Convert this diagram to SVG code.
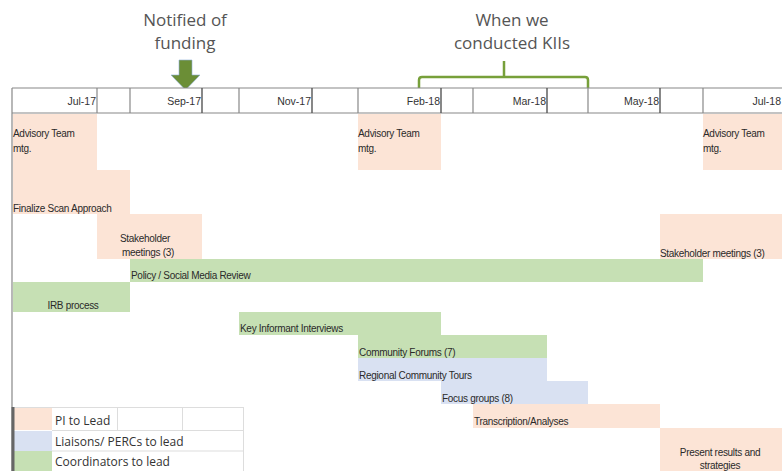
<svg xmlns="http://www.w3.org/2000/svg" width="782" height="471" viewBox="0 0 782 471">
<style>
.pi{fill:#fce4d6}
.gr{fill:#c6e0b4}
.bl{fill:#d9e1f2}
.lbl{font-family:"Liberation Sans",Arial,sans-serif;font-size:10px;fill:#2a2a2a;letter-spacing:-0.3px}
.hdr{font-family:"Liberation Sans",Arial,sans-serif;font-size:10.5px;fill:#333;text-anchor:end}
.top{font-family:"Open Sans","Liberation Sans",sans-serif;font-size:17px;fill:#555;text-anchor:middle}
.leg{font-family:"Open Sans","Liberation Sans",sans-serif;font-size:12px;fill:#333}
.gl{stroke:#888;stroke-width:1.2;fill:none}
.gd{stroke:#555;stroke-width:1.4;fill:none}
.lg{stroke:#ddd;stroke-width:1;fill:none}
</style>
<rect width="782" height="471" fill="#fff"/>

<g id="annotations">
  <text class="top" x="185" y="26">Notified of</text>
  <text class="top" x="185" y="49">funding</text>
  <text class="top" x="512" y="26">When we</text>
  <text class="top" x="512" y="49">conducted KIIs</text>
</g>

<g id="connectors">
  <path id="funding-arrow" d="M179,60 H192 V75 H200 L185.5,90 L171,75 H179 Z" fill="#6b8e36" stroke="#8fb0d8" stroke-width="0.6"/>
  <path id="kii-bracket" d="M419,90 V80 Q419,77 422,77 H585 Q588,77 588,80 V90 M504,77 V61" fill="none" stroke="#77a03a" stroke-width="2.5"/>
</g>

<g id="header">
  <rect x="12" y="88" width="790" height="25" fill="#fff"/>
  <line class="gl" x1="12" y1="88" x2="782" y2="88"/>
  <line class="gl" x1="12" y1="113" x2="782" y2="113"/>
  <line class="gl" x1="12" y1="88" x2="12" y2="471" stroke-width="1.6"/>
  <line class="gl" x1="97" y1="88" x2="97" y2="113"/>
  <line class="gl" x1="130" y1="88" x2="130" y2="113"/>
  <line class="gd" x1="202" y1="88" x2="202" y2="113"/>
  <line class="gl" x1="239" y1="88" x2="239" y2="113"/>
  <line class="gd" x1="312" y1="88" x2="312" y2="113"/>
  <line class="gl" x1="358" y1="88" x2="358" y2="113"/>
  <line class="gd" x1="441" y1="88" x2="441" y2="113"/>
  <line class="gl" x1="473" y1="88" x2="473" y2="113"/>
  <line class="gd" x1="547" y1="88" x2="547" y2="113"/>
  <line class="gl" x1="588" y1="88" x2="588" y2="113"/>
  <line class="gd" x1="660" y1="88" x2="660" y2="113"/>
  <line class="gl" x1="703" y1="88" x2="703" y2="113"/>
  <text class="hdr" x="96" y="105">Jul-17</text>
  <text class="hdr" x="201" y="105">Sep-17</text>
  <text class="hdr" x="311" y="105">Nov-17</text>
  <text class="hdr" x="440" y="105">Feb-18</text>
  <text class="hdr" x="546" y="105">Mar-18</text>
  <text class="hdr" x="659" y="105">May-18</text>
  <text class="hdr" x="781" y="105">Jul-18</text>
</g>

<g id="advisory-1"><rect class="pi" x="13" y="114" width="84" height="56"/><text class="lbl" x="13" y="137">Advisory Team</text><text class="lbl" x="13" y="152">mtg.</text></g>
<g id="advisory-2"><rect class="pi" x="358" y="114" width="83" height="56"/><text class="lbl" x="358" y="137">Advisory Team</text><text class="lbl" x="358" y="152">mtg.</text></g>
<g id="advisory-3"><rect class="pi" x="703" y="114" width="79" height="56"/><text class="lbl" x="703" y="137">Advisory Team</text><text class="lbl" x="703" y="152">mtg.</text></g>
<g id="finalize"><rect class="pi" x="13" y="170" width="117" height="44"/><text class="lbl" x="13" y="212">Finalize Scan Approach</text></g>
<g id="stakeholder-1"><rect class="pi" x="97" y="214" width="105" height="45"/><text class="lbl" x="145" y="242" text-anchor="middle">Stakeholder</text><text class="lbl" x="148" y="256" text-anchor="middle">meetings (3)</text></g>
<g id="stakeholder-2"><rect class="pi" x="660" y="214" width="122" height="45"/><text class="lbl" x="660" y="257">Stakeholder meetings (3)</text></g>
<g id="policy"><rect class="gr" x="130" y="259" width="573" height="23"/><text class="lbl" x="131" y="279">Policy / Social Media Review</text></g>
<g id="irb"><rect class="gr" x="13" y="282" width="117" height="30"/><text class="lbl" x="73" y="309" text-anchor="middle">IRB process</text></g>
<g id="kii"><rect class="gr" x="239" y="312" width="202" height="23"/><text class="lbl" x="240" y="332">Key Informant Interviews</text></g>
<g id="forums"><rect class="gr" x="358" y="335" width="189" height="23"/><text class="lbl" x="359" y="356">Community Forums (7)</text></g>
<g id="tours"><rect class="bl" x="358" y="358" width="189" height="23"/><text class="lbl" x="359" y="379">Regional Community Tours</text></g>
<g id="focus"><rect class="bl" x="441" y="381" width="147" height="23"/><text class="lbl" x="442" y="402">Focus groups (8)</text></g>
<g id="transcription"><rect class="pi" x="473" y="404" width="187" height="24"/><text class="lbl" x="474" y="425">Transcription/Analyses</text></g>
<g id="present"><rect class="pi" x="660" y="428" width="122" height="43"/><text class="lbl" x="720" y="456" text-anchor="middle">Present results and</text><text class="lbl" x="720" y="469" text-anchor="middle">strategies</text></g>

<g id="legend">
  <rect x="12" y="407" width="232" height="64" fill="#fff"/>
  <rect class="pi" x="14" y="408" width="38" height="22"/>
  <rect class="bl" x="14" y="431" width="38" height="20"/>
  <rect class="gr" x="14" y="451" width="38" height="20"/>
  <line class="lg" x1="12" y1="407.5" x2="244" y2="407.5"/>
  <line class="lg" x1="52" y1="430.5" x2="244" y2="430.5"/>
  <line class="lg" x1="52" y1="451" x2="244" y2="451"/>
  <line class="lg" x1="243.5" y1="407" x2="243.5" y2="471"/>
  <line class="lg" x1="117.5" y1="407" x2="117.5" y2="430"/>
  <line class="lg" x1="182.5" y1="407" x2="182.5" y2="430"/>
  <line x1="13" y1="407" x2="13" y2="471" stroke="#666" stroke-width="3"/>
  <text class="leg" x="55" y="425">PI to Lead</text>
  <text class="leg" x="55" y="446">Liaisons/ PERCs to lead</text>
  <text class="leg" x="55" y="466">Coordinators to lead</text>
</g>
</svg>
